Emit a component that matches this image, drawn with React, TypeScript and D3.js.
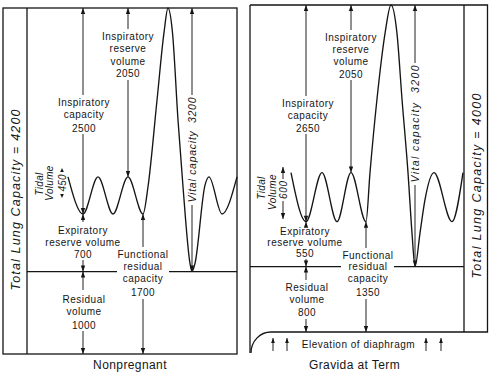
import React from "react";
import * as d3 from "d3";

// ---------------- data ----------------
const panelTitles = ["Nonpregnant", "Gravida at Term"];
const volumeKeys = ["TLC", "VC", "IC", "IRV", "TV", "ERV", "FRC", "RV"];
const nonpregnantVolumes = [4200, 3200, 2500, 2050, 450, 700, 1700, 1000];
const gravidaVolumes = [4000, 3200, 2650, 2050, 600, 550, 1350, 800];

// spirometer traces (time in s, volume in mL)
const nonpregnantTime = [0, 1.5, 3.0, 4.5, 6.0, 7.5, 8.0, 8.9, 9.6, 10.0, 10.45, 11.0, 11.5, 12.2, 12.4, 12.7, 13.7, 14.1, 15.4, 16.9];
const nonpregnantTrace = [2150, 1700, 2150, 1700, 2150, 1700, 2030, 3080, 3900, 4200, 3900, 2840, 2030, 1100, 1000, 1100, 2050, 2150, 1700, 2150];
const gravidaTime = [0, 1.5, 3.1, 4.6, 6.0, 7.5, 7.9, 8.6, 9.4, 10.0, 10.6, 11.1, 11.7, 12.1, 12.4, 12.9, 13.4, 14.3, 16.1, 17.2];
const gravidaTrace = [1950, 1350, 1950, 1350, 1950, 1350, 1950, 2850, 3650, 4000, 3650, 2850, 1950, 1210, 800, 1210, 1620, 1950, 1350, 1950];

const irvWords = ["Inspiratory", "reserve", "volume"];
const icWords = ["Inspiratory", "capacity"];
const ervWords = ["Expiratory", "reserve volume"];
const rvWords = ["Residual", "volume"];
const frcWords = ["Functional", "residual", "capacity"];
const tidalWords = ["Tidal", "Volume"];
const vcWord = "Vital capacity\u00a0\u00a0";
const tlcWord = "Total Lung Capacity = ";
const diaphragmNote = "Elevation of diaphragm";

// ---------------- helpers ----------------
const INK = "#151515";
const FONT = "'Liberation Sans', Arial, Helvetica, sans-serif";
const val = (arr: number[], key: string) => arr[volumeKeys.indexOf(key)];

function Head({ x, y, dir, len = 6, w = 2.2 }: any) {
  return <path d={`M${x},${y} L${x - w},${y - dir * len} L${x + w},${y - dir * len} Z`} fill={INK} />;
}

function VArrow({ x, y1, y2, gap, top = true, bottom = true }: any) {
  const segs: number[][] = gap ? [[y1, gap[0]], [gap[1], y2]] : [[y1, y2]];
  return (
    <g>
      {segs.filter((s) => s[1] > s[0]).map((s, i) => (
        <line key={i} x1={x} x2={x} y1={s[0]} y2={s[1]} stroke={INK} strokeWidth={0.95} />
      ))}
      {top && <Head x={x} y={y1} dir={-1} />}
      {bottom && <Head x={x} y={y2} dir={1} />}
    </g>
  );
}

function Block({ x, ys, lines }: any) {
  return (
    <g>
      {lines.map((t: string, i: number) => (
        <text key={i} x={x} y={ys[i]} textAnchor="middle" dominantBaseline="central" fontSize={10}
          letterSpacing={0.5} fontFamily={FONT} fill={INK}>{t}</text>
      ))}
    </g>
  );
}

function VText({ x, y, text, size, length, spacing }: any) {
  return (
    <text transform={`translate(${x},${y}) rotate(-90)`} textAnchor="middle" fontSize={size}
      fontStyle="italic" fontFamily={FONT} fill={INK} letterSpacing={spacing}
      {...(length ? { textLength: length, lengthAdjust: "spacing" } : {})}>{text}</text>
  );
}

export default function App() {
  // ---------- left panel: nonpregnant ----------
  const xL = d3.scaleLinear().domain([0, d3.max(nonpregnantTime) as number]).range([68, 237]);
  const yL = d3.scaleLinear().domain([0, val(nonpregnantVolumes, "TLC")]).range([354, 8]);
  const lineL = d3.line<number>().x((_, i) => xL(nonpregnantTime[i])).y((d) => yL(d)).curve(d3.curveMonotoneX);
  const L = (k: string) => val(nonpregnantVolumes, k);
  const lIC = xL(nonpregnantTime[1]);
  const lIRV = xL(nonpregnantTime[4]);
  const lFRC = xL(nonpregnantTime[5]);
  const lVC = xL(nonpregnantTime[d3.minIndex(nonpregnantTrace)]);

  // ---------- right panel: gravida at term ----------
  const xR = d3.scaleLinear().domain([0, d3.max(gravidaTime) as number]).range([291, 463]);
  const yR = d3.scaleLinear().domain([0, val(gravidaVolumes, "TLC")]).range([332, 5]);
  const lineR = d3.line<number>().x((_, i) => xR(gravidaTime[i])).y((d) => yR(d)).curve(d3.curveMonotoneX);
  const R = (k: string) => val(gravidaVolumes, k);
  const rIC = xR(gravidaTime[1]);
  const rIRV = xR(gravidaTime[4]);
  const rFRC = xR(gravidaTime[5]);
  const rVC = xR(gravidaTime[d3.minIndex(gravidaTrace)]);

  const frameW = 1.3;

  return (
    <svg width={492} height={376} style={{ position: "absolute", left: 0, top: 0, background: "#fff" }}>
      <rect x={0} y={0} width={492} height={376} fill="#fff" />

      {/* ===== LEFT PANEL ===== */}
      <rect x={3} y={yL(L("TLC"))} width={234} height={yL(0) - yL(L("TLC"))} fill="none" stroke={INK} strokeWidth={frameW} />
      <line x1={27} x2={27} y1={yL(L("TLC"))} y2={yL(0)} stroke={INK} strokeWidth={frameW} />
      <line x1={27} x2={117} y1={yL(L("RV"))} y2={yL(L("RV"))} stroke={INK} strokeWidth={frameW} />
      <line x1={169} x2={237} y1={yL(L("RV"))} y2={yL(L("RV"))} stroke={INK} strokeWidth={frameW} />

      <path d={lineL(nonpregnantTrace) as string} fill="none" stroke={INK} strokeWidth={1.35} />

      <VArrow x={lIC} y1={yL(L("TLC"))} y2={yL(L("FRC"))} gap={[95, 134]} />
      <VArrow x={lIRV} y1={yL(L("TLC"))} y2={yL(L("FRC") + L("TV"))} gap={[29, 80]} />
      <VArrow x={lIC} y1={yL(L("FRC"))} y2={yL(L("RV"))} gap={[222, 260]} />
      <VArrow x={lIC} y1={yL(L("RV"))} y2={yL(0)} gap={[290, 331]} />
      <VArrow x={lFRC} y1={yL(L("FRC"))} y2={yL(0)} gap={[247, 299]} />
      <VArrow x={lVC} y1={yL(L("TLC"))} y2={yL(L("RV"))} gap={[95, 205]} />

      <Block x={lIRV} ys={[36, 48, 61, 73]} lines={[...irvWords, String(L("IRV"))]} />
      <Block x={lIC + 1} ys={[102, 114, 128]} lines={[...icWords, String(L("IC"))]} />
      <Block x={lIC} ys={[230, 242, 254]} lines={[...ervWords, String(L("ERV"))]} />
      <Block x={lIC + 1} ys={[299, 311, 325]} lines={[...rvWords, String(L("RV"))]} />
      <Block x={lFRC} ys={[254, 266, 278, 292]} lines={[...frcWords, String(L("FRC"))]} />

      <VText x={lVC + 4} y={150} text={vcWord + L("VC")} size={10.5} length={105} />
      <VText x={20} y={200} text={tlcWord + L("TLC")} size={12.5} length={181} />

      <VText x={42.5} y={184} text={tidalWords[0]} size={10} spacing={0.3} />
      <VText x={52.5} y={183} text={tidalWords[1]} size={10} spacing={0.3} />
      <VText x={65.5} y={183} text={String(L("TV"))} size={10} length={17} />
      <Head x={62} y={168} dir={-1} len={4} w={1.8} />
      <Head x={62} y={198} dir={1} len={4} w={1.8} />

      <text x={130} y={365} textAnchor="middle" dominantBaseline="central" fontSize={12} letterSpacing={0.4}
        fontFamily={FONT} fill={INK}>{panelTitles[0]}</text>

      {/* ===== RIGHT PANEL ===== */}
      <path d={`M250,${yR(R("TLC"))} L487.5,${yR(R("TLC"))} L487.5,${yR(0)} L271,${yR(0)} A20,21 0 0 0 251,353`}
        fill="none" stroke={INK} strokeWidth={frameW} />
      <line x1={250} x2={250} y1={yR(R("TLC"))} y2={353} stroke={INK} strokeWidth={frameW} />
      <line x1={464} x2={464} y1={yR(R("TLC"))} y2={yR(0)} stroke={INK} strokeWidth={frameW} />
      <line x1={250} x2={341} y1={yR(R("RV"))} y2={yR(R("RV"))} stroke={INK} strokeWidth={frameW} />
      <line x1={394} x2={464} y1={yR(R("RV"))} y2={yR(R("RV"))} stroke={INK} strokeWidth={frameW} />

      <path d={lineR(gravidaTrace) as string} fill="none" stroke={INK} strokeWidth={1.35} />

      <VArrow x={rIC} y1={yR(R("TLC"))} y2={yR(R("FRC"))} gap={[96, 134]} />
      <VArrow x={rIRV} y1={yR(R("TLC"))} y2={yR(R("FRC") + R("TV"))} gap={[30, 80]} />
      <VArrow x={rIC} y1={yR(R("FRC"))} y2={yR(R("RV"))} gap={[226, 259]} />
      <VArrow x={rIC} y1={yR(R("RV"))} y2={yR(0)} gap={[280, 319]} />
      <VArrow x={rFRC} y1={yR(R("FRC"))} y2={yR(0)} gap={[248, 299]} />
      <VArrow x={rVC} y1={yR(R("TLC"))} y2={yR(R("RV"))} gap={[63, 185]} />

      <Block x={rIRV} ys={[37, 49, 61, 74]} lines={[...irvWords, String(R("IRV"))]} />
      <Block x={rIC + 2} ys={[103, 115, 128]} lines={[...icWords, String(R("IC"))]} />
      <Block x={rIC - 1} ys={[231, 242, 253]} lines={[...ervWords, String(R("ERV"))]} />
      <Block x={rIC + 1} ys={[287, 299, 312]} lines={[...rvWords, String(R("RV"))]} />
      <Block x={rFRC + 2} ys={[255, 266, 278, 292]} lines={[...frcWords, String(R("FRC"))]} />

      <VText x={rVC + 4} y={124} text={vcWord + R("VC")} size={10.5} length={117} />
      <VText x={480.5} y={186} text={tlcWord + R("TLC")} size={12.5} length={185} />

      <VText x={264.5} y={188} text={tidalWords[0]} size={10} spacing={0.3} />
      <VText x={275.5} y={192} text={tidalWords[1]} size={10} spacing={0.4} />
      <VText x={286.5} y={190} text={String(R("TV"))} size={10} length={18} />
      <line x1={283} x2={283} y1={167} y2={179} stroke={INK} strokeWidth={0.95} />
      <Head x={283} y={167} dir={-1} />
      <line x1={283} x2={283} y1={201} y2={219} stroke={INK} strokeWidth={0.95} />
      <Head x={283} y={219} dir={1} />

      {[273, 287, 426, 441].map((x) => (
        <g key={x}>
          <line x1={x} x2={x} y1={338} y2={351} stroke={INK} strokeWidth={0.95} />
          <Head x={x} y={338} dir={-1} len={5} w={1.9} />
        </g>
      ))}
      <text x={358.5} y={344} textAnchor="middle" dominantBaseline="central" fontSize={10} letterSpacing={0.5}
        fontFamily={FONT} fill={INK}>{diaphragmNote}</text>

      <text x={354.5} y={365} textAnchor="middle" dominantBaseline="central" fontSize={12} letterSpacing={0.4}
        fontFamily={FONT} fill={INK}>{panelTitles[1]}</text>
    </svg>
  );
}
